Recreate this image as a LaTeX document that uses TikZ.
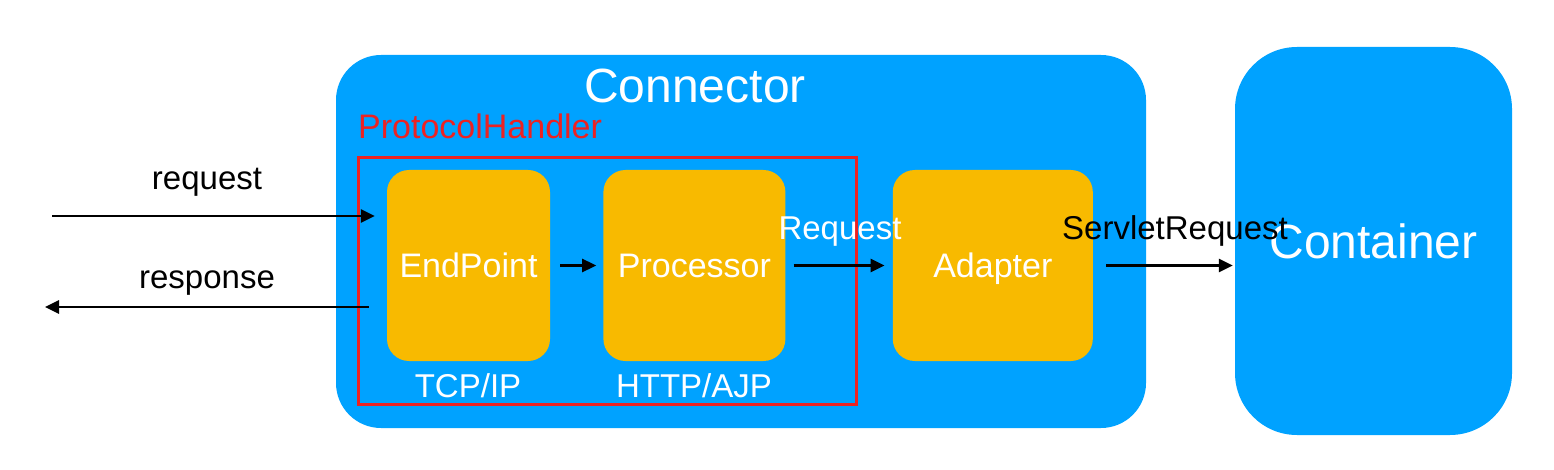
\documentclass[tikz,border=0pt]{standalone}
\usepackage{fontspec}
\setmainfont{Liberation Sans}
\usetikzlibrary{arrows.meta}
\usetikzlibrary{positioning}
\definecolor{connblue}{RGB}{0,162,255}
\definecolor{boxorange}{RGB}{248,186,0}
\definecolor{handred}{RGB}{236,34,34}

\begin{document}
\begin{tikzpicture}
          [x=1pt, y=-1pt,
           big/.style={fill=connblue, inner sep=0pt, text=white, font=\fontsize{48}{56}\selectfont},
           block/.style={fill=boxorange, rounded corners=22pt, minimum height=191pt, inner sep=0pt, text=white, text depth=0pt, font=\fontsize{34}{40}\selectfont},
           lbl/.style={anchor=base, inner sep=0pt, font=\fontsize{33}{40}\selectfont},
           flow/.style={line width=2.6pt, -{Triangle[length=14pt,width=13pt]}}]
          \useasboundingbox (0,0) rectangle (1554,470);

          \node (connector) [big, rounded corners=45pt, minimum width=810pt, minimum height=373pt] at (741,241.5) {};
          \node (container) [big, rounded corners=62pt, minimum width=277pt, minimum height=388pt] at (1373.5,241) {Container};
          \node (handler) [draw=handred, line width=3pt, minimum width=498pt, minimum height=246pt] at (607,281) {};

          \node (endpoint) [block, minimum width=163pt] at (468.5,265.5) {EndPoint};
          \node (processor) [block, minimum width=182pt, right=53pt of endpoint] {Processor};
          \node (adapter) [block, minimum width=200pt, right=107pt of processor] {Adapter};

          \node (conntitle) [lbl, text=white, font=\fontsize{48}{56}\selectfont] at (695,103) {Connector};
          \node (phtitle) [lbl, anchor=base west, text=handred, font=\fontsize{34}{40}\selectfont] at (358,139) {ProtocolHandler};
          \node (tcp) [lbl, text=white] at (468,397) {TCP/IP};
          \node (http) [lbl, text=white] at (694,397) {HTTP/AJP};
          \node (reqlbl) [lbl] at (207,190) {request};
          \node (reslbl) [lbl] at (207,288) {response};
          \node (reqobj) [lbl, text=white] at (840,240) {Request};
          \node (servlet) [lbl] at (1175,240) {ServletRequest};

          \coordinate (reqin) at (52,216);
          \coordinate (resout) at (45,307);

          \draw[flow, shorten >=12pt] (reqin) -- (reqin -| endpoint.west);
          \draw[flow, shorten <=18pt] (resout -| endpoint.west) -- (resout);
          \draw[flow, shorten <=10pt, shorten >=7pt] (endpoint) -- (processor);
          \draw[flow, shorten <=8pt, shorten >=8pt] (processor) -- (adapter);
          \draw[flow, shorten <=13pt, shorten >=2pt] (adapter.east) -- (adapter.east -| container.west);

        \end{tikzpicture}
\end{document}
